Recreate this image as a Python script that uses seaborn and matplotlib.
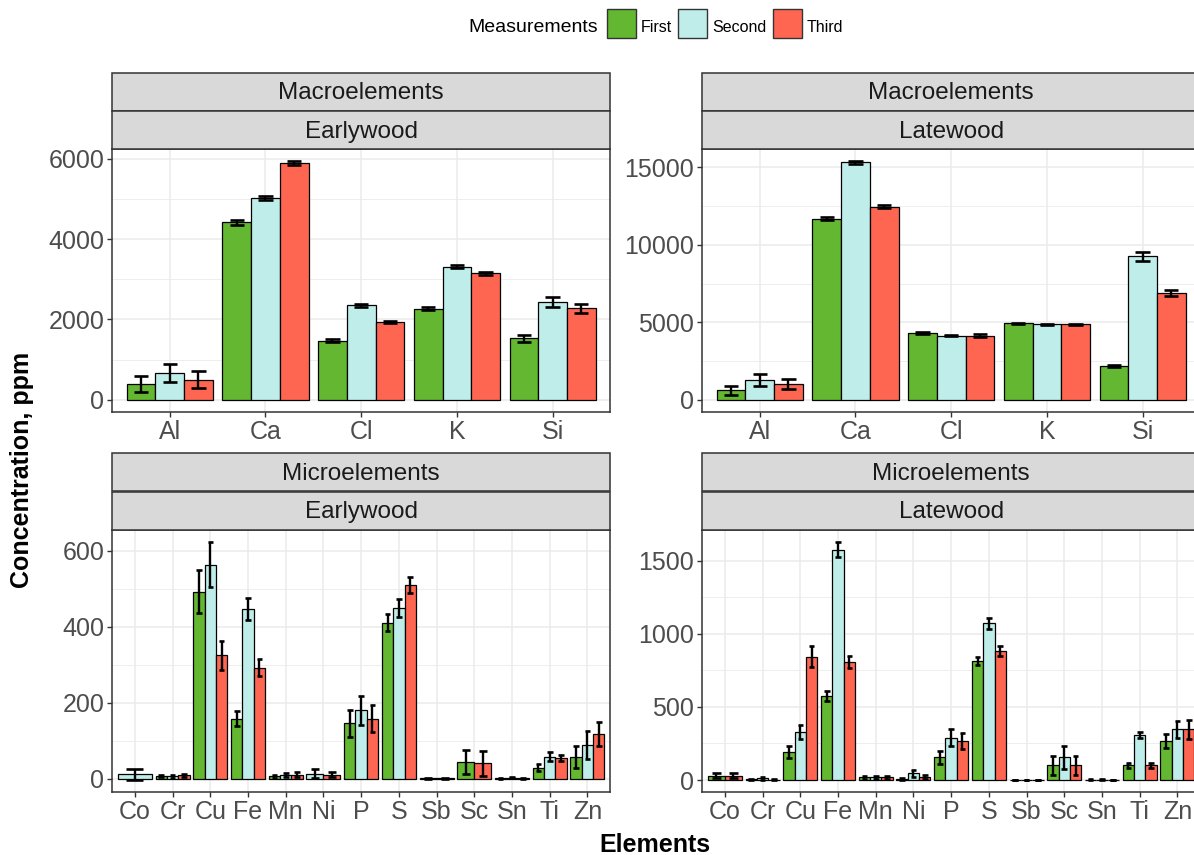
import numpy as np
import matplotlib
matplotlib.use("Agg")
import matplotlib.pyplot as plt
import seaborn as sns
from matplotlib.patches import Rectangle
from matplotlib.ticker import MultipleLocator

# ---- data -------------------------------------------------------------
measurements = ["First", "Second", "Third"]
palette = ["#63B731", "#BFEEEA", "#FF6652"]

macro_elements = ["Al", "Ca", "Cl", "K", "Si"]
micro_elements = ["Co", "Cr", "Cu", "Fe", "Mn", "Ni", "P", "S", "Sb", "Sc", "Sn", "Ti", "Zn"]

nan = np.nan

# Macroelements, earlywood
ew_macro_first = [392, 4417, 1467, 2267, 1533]
ew_macro_first_err = [210, 60, 40, 40, 90]
ew_macro_second = [667, 5017, 2350, 3317, 2442]
ew_macro_second_err = [220, 50, 40, 40, 130]
ew_macro_third = [500, 5892, 1942, 3150, 2275]
ew_macro_third_err = [205, 50, 25, 40, 110]

# Macroelements, latewood
lw_macro_first = [603, 11681, 4332, 4935, 2155]
lw_macro_first_err = [310, 90, 60, 50, 70]
lw_macro_second = [1293, 15323, 4138, 4871, 9267]
lw_macro_second_err = [380, 80, 50, 40, 300]
lw_macro_third = [1013, 12478, 4138, 4871, 6918]
lw_macro_third_err = [310, 80, 80, 40, 200]

# Microelements, earlywood (nan = not measured)
ew_micro_first = [nan, 7, 492, 158, 6, nan, 145, 410, 1, 44, 1, 29, 57]
ew_micro_first_err = [nan, 3, 56, 19, 4, nan, 35, 22, 1, 32, 1, 9, 30]
ew_micro_second = [11, 6, 563, 446, 9, 13, 180, 449, 1, nan, 2, 58, 88]
ew_micro_second_err = [15, 4, 60, 29, 6, 12, 38, 23, 1, nan, 1, 11, 36]
ew_micro_third = [nan, 9, 324, 292, 10, 10, 158, 510, nan, 40, 1, 54, 117]
ew_micro_third_err = [nan, 4, 38, 22, 6, 7, 35, 21, nan, 33, 1, 9, 32]

# Microelements, latewood
lw_micro_first = [29, 5, 191, 577, 20, 9, 155, 814, 2, 100, 3, 100, 267]
lw_micro_first_err = [17, 5, 41, 34, 10, 5, 43, 28, 2, 66, 2, 17, 51]
lw_micro_second = [nan, 12, 330, 1575, 20, 46, 289, 1071, 2, 155, 3, 310, 346]
lw_micro_second_err = [nan, 10, 47, 52, 10, 22, 58, 39, 2, 77, 2, 21, 58]
lw_micro_third = [29, 3, 843, 805, 20, 23, 267, 880, 2, 100, 1, 100, 346]
lw_micro_third_err = [17, 3, 72, 41, 10, 14, 58, 33, 2, 66, 1, 14, 64]

# ---- style ------------------------------------------------------------
W, H = 1194, 855
sns.set_theme(style="whitegrid")
plt.rcParams["font.family"] = ["Liberation Sans", "DejaVu Sans"]

DARK = "#333333"
GRID = "#EBEBEB"
STRIP = "#D9D9D9"
TICKTXT = "#4D4D4D"

fig = plt.figure(figsize=(W / 100, H / 100), dpi=100)
fig.patch.set_facecolor("white")


def fx(x):
    return x / W


def fy(y):
    return 1 - y / H


def draw_panel(rect, strip_top, elements, series, errors, group, wood, major):
    left, top, right, bottom = rect
    ax = fig.add_axes([fx(left), fy(bottom), (right - left) / W, (bottom - top) / H])
    ax.set_facecolor("white")
    ax.set_axisbelow(True)

    vals = np.array(series, dtype=float)
    errs = np.array(errors, dtype=float)

    for i, el in enumerate(elements):
        present = [k for k in range(len(measurements)) if not np.isnan(vals[k, i])]
        n = len(present)
        w = 0.9 / n
        for j, k in enumerate(present):
            x = i - 0.45 + w * (j + 0.5)
            v, e = vals[k, i], errs[k, i]
            ax.bar(x, v, width=w, color=palette[k], edgecolor="black",
                   linewidth=0.9, zorder=2)
            ax.vlines(x, v - e, v + e, color="black", linewidth=1.7, zorder=3)
            ax.hlines([v - e, v + e], x - w * 0.25, x + w * 0.25,
                      color="black", linewidth=1.9, zorder=3)

    lo = min(0.0, np.nanmin(vals - errs))
    hi = max(0.0, np.nanmax(vals + errs))
    pad = (hi - lo) * 0.05
    ax.set_ylim(lo - pad, hi + pad)
    ax.set_xlim(-0.6, len(elements) - 0.4)

    ax.set_xticks(range(len(elements)))
    ax.set_xticklabels(elements)
    ax.yaxis.set_major_locator(MultipleLocator(major))
    ax.yaxis.set_minor_locator(MultipleLocator(major / 2))

    ax.grid(False)
    ax.grid(which="major", axis="both", color=GRID, linewidth=1.1)
    ax.grid(which="minor", axis="y", color=GRID, linewidth=0.6)
    ax.tick_params(axis="both", which="major", left=True, bottom=True,
                   length=3.3, width=1.0, color=DARK, labelsize=18,
                   labelcolor=TICKTXT, pad=2.5)
    ax.tick_params(axis="y", which="minor", left=False)
    for s in ax.spines.values():
        s.set_visible(True)
        s.set_color(DARK)
        s.set_linewidth(1.1)
    ax.set_xlabel("")
    ax.set_ylabel("")

    # facet strips: group on top, wood type below
    sh = (top - strip_top) / 2
    for row, label in enumerate([group, wood]):
        st = strip_top + sh * row
        fig.patches.append(Rectangle((fx(left), fy(st + sh)), (right - left) / W, sh / H,
                                     transform=fig.transFigure, facecolor=STRIP,
                                     edgecolor=DARK, linewidth=1.1, zorder=1))
        fig.text(fx((left + right) / 2), fy(st + sh / 2 + 1.5), label,
                 ha="center", va="center", fontsize=17.5, color="#1A1A1A")
    return ax


panels = [
    ((112.3, 149.3, 610.0, 411.7), 72.5, macro_elements,
     [ew_macro_first, ew_macro_second, ew_macro_third],
     [ew_macro_first_err, ew_macro_second_err, ew_macro_third_err],
     "Macroelements", "Earlywood", 2000),
    ((702.3, 149.3, 1200.0, 411.7), 72.5, macro_elements,
     [lw_macro_first, lw_macro_second, lw_macro_third],
     [lw_macro_first_err, lw_macro_second_err, lw_macro_third_err],
     "Macroelements", "Latewood", 5000),
    ((112.3, 530.0, 610.0, 792.0), 453.0, micro_elements,
     [ew_micro_first, ew_micro_second, ew_micro_third],
     [ew_micro_first_err, ew_micro_second_err, ew_micro_third_err],
     "Microelements", "Earlywood", 200),
    ((702.3, 530.0, 1200.0, 792.0), 453.0, micro_elements,
     [lw_micro_first, lw_micro_second, lw_micro_third],
     [lw_micro_first_err, lw_micro_second_err, lw_micro_third_err],
     "Microelements", "Latewood", 500),
]

for p in panels:
    draw_panel(*p)

# axis titles
fig.text(fx(22), fy(470), "Concentration, ppm", rotation=90, ha="center",
         va="center", fontsize=18, fontweight="bold", color="black")
fig.text(fx(655), fy(845), "Elements", ha="center", va="center",
         fontsize=18, fontweight="bold", color="black")

# legend
fig.text(fx(468), fy(28), "Measurements", ha="left", va="center",
         fontsize=14, color="black")
key_left = [606.7, 678.0, 772.7]
label_left = [640.7, 712.0, 807.0]
for k, name in enumerate(measurements):
    fig.patches.append(Rectangle((fx(key_left[k]), fy(38.3)), 29 / W, 29 / H,
                                 transform=fig.transFigure, facecolor=palette[k],
                                 edgecolor=DARK, linewidth=1.0))
    fig.text(fx(label_left[k]), fy(27.5), name, ha="left", va="center",
             fontsize=11.5, color="black")

fig.savefig("out.png", dpi=100, facecolor="white")
